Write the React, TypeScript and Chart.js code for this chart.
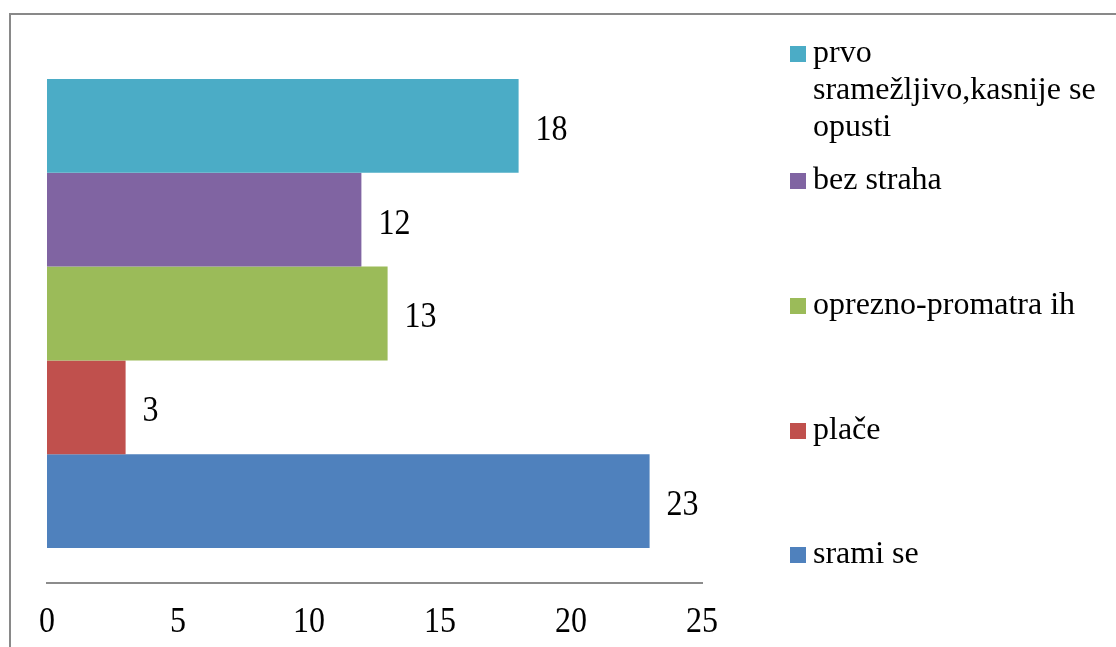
import React, { useEffect, useRef } from 'react';
import { Chart, registerables } from 'chart.js';

Chart.register(...registerables);

// Data (top to bottom as drawn)
const categories = [''];
const seriesNames = ['prvo sramežljivo,kasnije se opusti', 'bez straha', 'oprezno-promatra ih', 'plače', 'srami se'];
const seriesValues = [18, 12, 13, 3, 23];
const seriesColors = ['#4BACC6', '#8064A2', '#9BBB59', '#C0504D', '#4F81BD'];
const legendLines = [['prvo', 'sramežljivo,kasnije se', 'opusti'], ['bez straha'], ['oprezno-promatra ih'], ['plače'], ['srami se']];
const xMin = 0;
const xMax = 25;
const xStep = 5;

const FONT = '"Liberation Serif", "Times New Roman", serif';
const NUM_SIZE = 32;
const NUM_STRETCH = 1.1;
const LEGEND_SIZE = 32;

function drawStretchedNumber(ctx: any, text: string, x: number, cy: number, align: string) {
  ctx.save();
  ctx.translate(x, cy);
  ctx.scale(1, NUM_STRETCH);
  ctx.font = `${NUM_SIZE}px ${FONT}`;
  ctx.fillStyle = '#000';
  ctx.textAlign = align;
  ctx.textBaseline = 'alphabetic';
  ctx.fillText(text, 0, 0.338 * NUM_SIZE);
  ctx.restore();
}

const framePlugin = {
  id: 'frame',
  beforeDraw(chart: any) {
    const ctx = chart.ctx;
    ctx.save();
    ctx.strokeStyle = '#898989';
    ctx.lineWidth = 2;
    ctx.strokeRect(10, 14, 3000, 3000);
    ctx.restore();
  },
};

const valueLabelPlugin = {
  id: 'valueLabels',
  afterDatasetsDraw(chart: any) {
    const ctx = chart.ctx;
    chart.data.datasets.forEach((ds: any, i: number) => {
      const meta = chart.getDatasetMeta(i);
      meta.data.forEach((el: any, j: number) => {
        drawStretchedNumber(ctx, String(ds.data[j]), el.x + 17, el.y + 2, 'left');
      });
    });
  },
};

const tickLabelPlugin = {
  id: 'tickLabels',
  afterDraw(chart: any) {
    const ctx = chart.ctx;
    const scale = chart.scales.x;
    scale.ticks.forEach((t: any, i: number) => {
      const x = scale.getPixelForTick(i);
      drawStretchedNumber(ctx, String(t.value), x, scale.top + 37, 'center');
    });
  },
};

const legendBaselines = [62, 189, 314, 439, 563];

const legendPlugin = {
  id: 'customLegend',
  afterDraw(chart: any) {
    const ctx = chart.ctx;
    ctx.save();
    ctx.font = `${LEGEND_SIZE}px ${FONT}`;
    ctx.textAlign = 'left';
    ctx.textBaseline = 'alphabetic';
    chart.data.datasets.forEach((ds: any, i: number) => {
      const base = legendBaselines[i];
      ctx.fillStyle = ds.backgroundColor;
      ctx.fillRect(790, base - 16, 16, 16);
      ctx.fillStyle = '#000';
      legendLines[i].forEach((line, k) => {
        ctx.fillText(line, 813, base + k * 37);
      });
    });
    ctx.restore();
  },
};

export default function App() {
  const canvasRef = useRef<HTMLCanvasElement | null>(null);

  useEffect(() => {
    if (!canvasRef.current) return;
    const chart = new Chart(canvasRef.current, {
      type: 'bar',
      data: {
        labels: categories,
        datasets: seriesNames.map((name, i) => ({
          label: name,
          data: [seriesValues[i]],
          backgroundColor: seriesColors[i],
          borderWidth: 0,
          categoryPercentage: 0.87,
          barPercentage: 1,
        })),
      },
      options: {
        indexAxis: 'y',
        animation: false,
        responsive: true,
        maintainAspectRatio: false,
        layout: { padding: { left: 47, right: 414, top: 44, bottom: 0 } },
        plugins: {
          legend: { display: false },
          tooltip: { enabled: false },
        },
        scales: {
          x: {
            min: xMin,
            max: xMax,
            ticks: {
              stepSize: xStep,
              color: 'rgba(0,0,0,0)',
              padding: 20,
              font: { family: FONT, size: 30 },
            },
            grid: { display: false, drawTicks: false },
            border: { display: true, color: '#8c8c8c', width: 2 },
            afterFit(scale: any) {
              scale.height = 64;
            },
          },
          y: {
            display: false,
            grid: { display: false },
          },
        },
      },
      plugins: [framePlugin, valueLabelPlugin, tickLabelPlugin, legendPlugin],
    });
    return () => chart.destroy();
  }, []);

  return (
    <div style={{ position: 'absolute', left: 0, top: 0, width: 1116, height: 647, overflow: 'hidden', background: '#fff' }}>
      <canvas ref={canvasRef} />
    </div>
  );
}
